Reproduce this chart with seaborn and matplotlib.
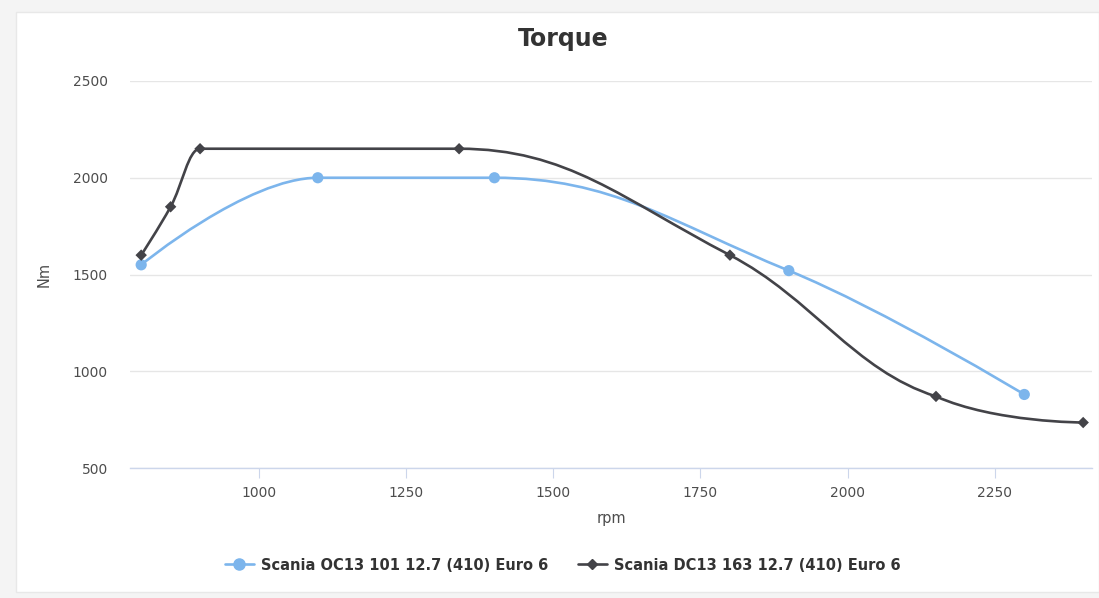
import numpy as np
import pandas as pd
import matplotlib
matplotlib.use("Agg")
import matplotlib.pyplot as plt
import seaborn as sns
from matplotlib.path import Path
from matplotlib.patches import PathPatch, Rectangle
from matplotlib.lines import Line2D

# ---- data ----
oc13_name = "Scania OC13 101 12.7 (410) Euro 6"
oc13_rpm = [800, 1100, 1400, 1900, 2300]
oc13_nm = [1550, 2000, 2000, 1520, 880]

dc13_name = "Scania DC13 163 12.7 (410) Euro 6"
dc13_rpm = [800, 850, 900, 1340, 1800, 2150, 2400]
dc13_nm = [1600, 1850, 2150, 2150, 1600, 870, 735]

x_ticks = [1000, 1250, 1500, 1750, 2000, 2250]
y_ticks = [500, 1000, 1500, 2000, 2500]

title = "Torque"
x_label = "rpm"
y_label = "Nm"

# ---- style ----
sns.set_theme(style="white")
plt.rcParams["font.family"] = ["DejaVu Sans"]

c_oc = "#7cb5ec"
c_dc = "#434348"


def spline_path(xs, ys, smoothing=1.5):
    """Highcharts-style spline path (cubic Bezier) through the points."""
    n = len(xs)
    denom = smoothing + 1
    verts = [(xs[0], ys[0])]
    codes = [Path.MOVETO]
    right_prev = (xs[0], ys[0])
    for i in range(1, n):
        px, py = xs[i], ys[i]
        lcx, lcy = px, py
        rcx, rcy = px, py
        if i < n - 1:
            lx, ly = xs[i - 1], ys[i - 1]
            nx, ny = xs[i + 1], ys[i + 1]
            lcx = (smoothing * px + lx) / denom
            lcy = (smoothing * py + ly) / denom
            rcx = (smoothing * px + nx) / denom
            rcy = (smoothing * py + ny) / denom
            corr = 0.0
            if rcx != lcx:
                corr = ((rcy - lcy) * (rcx - px)) / (rcx - lcx) + py - rcy
            lcy += corr
            rcy += corr
            if lcy > ly and lcy > py:
                lcy = max(ly, py)
                rcy = 2 * py - lcy
            elif lcy < ly and lcy < py:
                lcy = min(ly, py)
                rcy = 2 * py - lcy
            if rcy > ny and rcy > py:
                rcy = max(ny, py)
                lcy = 2 * py - rcy
            elif rcy < ny and rcy < py:
                rcy = min(ny, py)
                lcy = 2 * py - rcy
        verts += [right_prev, (lcx, lcy), (px, py)]
        codes += [Path.CURVE4] * 3
        right_prev = (rcx, rcy)
    return Path(verts, codes)


W, H = 1099, 598
fig = plt.figure(figsize=(W / 100, H / 100), dpi=100)
fig.patch.set_facecolor("#f4f4f4")
card = Rectangle((16 / W, 6 / H), 1 - 16 / W, 1 - 18 / H,
                 transform=fig.transFigure, facecolor="white",
                 edgecolor="#e8e8e8", linewidth=1.0, zorder=-10)
fig.patches.append(card)

ax = fig.add_axes([130 / W, 1 - 468 / H, (1092 - 130) / W, (468 - 81) / H])
ax.set_facecolor("none")
ax.set_zorder(1)

df_oc = pd.DataFrame({"rpm": oc13_rpm, "Nm": oc13_nm})
df_dc = pd.DataFrame({"rpm": dc13_rpm, "Nm": dc13_nm})

# curves
ax.add_patch(PathPatch(spline_path(oc13_rpm, oc13_nm), facecolor="none",
                       edgecolor=c_oc, linewidth=1.9, zorder=3))
ax.add_patch(PathPatch(spline_path(dc13_rpm, dc13_nm), facecolor="none",
                       edgecolor=c_dc, linewidth=1.9, zorder=5))

# markers
sns.scatterplot(data=df_oc, x="rpm", y="Nm", ax=ax, color=c_oc, marker="o",
                s=65, edgecolor="none", zorder=4, legend=False)
sns.scatterplot(data=df_dc, x="rpm", y="Nm", ax=ax, color=c_dc, marker="D",
                s=34, edgecolor="none", zorder=6, legend=False)

ax.set_xlim(781, 2415)
ax.set_ylim(500, 2500)
ax.set_xticks(x_ticks)
ax.set_yticks(y_ticks)
ax.set_xticklabels([str(t) for t in x_ticks])
ax.set_yticklabels([str(t) for t in y_ticks])

ax.yaxis.grid(True, color="#e6e6e6", linewidth=1.0)
ax.xaxis.grid(False)
for s in ["top", "right", "left"]:
    ax.spines[s].set_visible(False)
ax.spines["bottom"].set_color("#ccd6eb")
ax.spines["bottom"].set_linewidth(1.0)

ax.tick_params(axis="x", which="major", length=7, width=0.8, color="#ccd6eb",
               labelsize=10, labelcolor="#4d4d4d", pad=6, direction="out",
               bottom=True)
ax.tick_params(axis="y", which="major", length=0, labelsize=10,
               labelcolor="#4d4d4d", pad=16)

ax.set_xlabel(x_label, fontsize=10.5, color="#4d4d4d", labelpad=8)
ax.set_ylabel(y_label, fontsize=10.5, color="#4d4d4d")
ax.yaxis.set_label_coords(-0.081, 0.5)

fig.text(0.512, 1 - 39 / H, title, ha="center", va="center", fontsize=17,
         fontweight="bold", color="#333333")

handles = [
    Line2D([0], [0], color=c_oc, lw=1.9, marker="o", markersize=8),
    Line2D([0], [0], color=c_dc, lw=1.9, marker="D", markersize=5.5),
]
fig.legend(handles, [oc13_name, dc13_name], loc="center",
           bbox_to_anchor=(0.512, 1 - 565 / H), ncol=2, frameon=False,
           prop={"size": 10.5, "weight": "bold"}, labelcolor="#333333",
           handlelength=2.0, handletextpad=0.5, columnspacing=2.0)

fig.savefig("out.png", dpi=100, facecolor=fig.get_facecolor())
